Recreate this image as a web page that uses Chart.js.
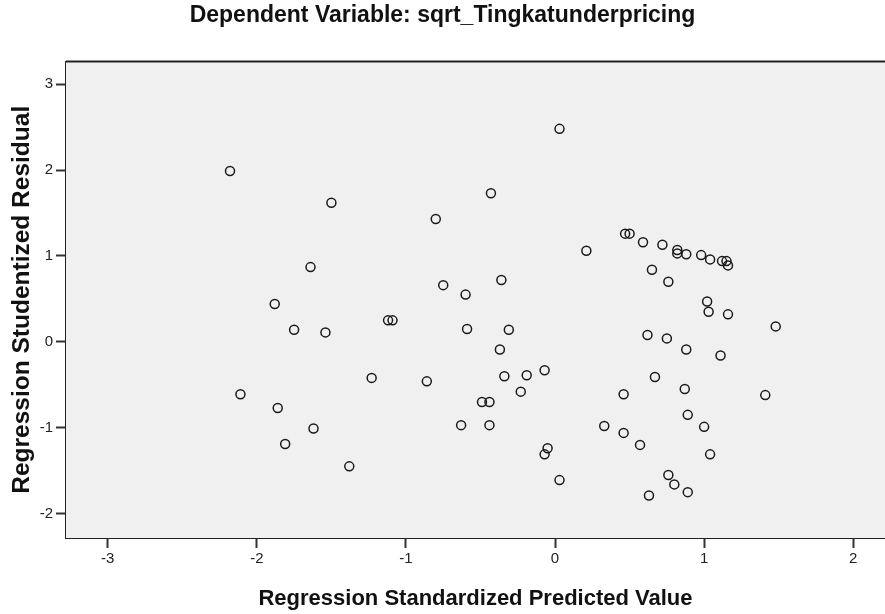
<!DOCTYPE html>
<html>
<head>
<meta charset="utf-8">
<title>Residual scatter</title>
<script src="https://cdn.jsdelivr.net/npm/chart.js@4.4.1/dist/chart.umd.min.js"></script>
<style>
  html, body { margin: 0; padding: 0; background: #fff; }
  #wrap { width: 885px; height: 614px; }
</style>
</head>
<body>
<div id="wrap"><canvas id="residChart"></canvas></div>
<script>
// values
const predicted = [
  -2.18, -1.50, -1.64, -1.88, 0.03, -0.43, -0.80, 0.47, 0.50, 0.21,
  -0.75, -0.60, -0.36, 0.59, 0.72, 0.82, 0.82, 0.88, 0.98, 1.04,
  1.12, 1.15, 1.16, 0.65, 0.76, 1.02, -1.75, -1.54, -2.11, -1.86,
  -1.62, -1.81, -1.38, -1.12, -1.09, -0.59, -0.31, -0.37, -1.23, -0.86,
  -0.34, -0.19, -0.07, -0.23, -0.49, -0.44, -0.63, -0.44, -0.05, -0.07,
  0.03, 0.46, 0.33, 0.46, 1.03, 1.16, 1.48, 0.62, 0.75, 0.88,
  1.11, 0.67, 0.87, 1.41, 0.89, 1.00, 0.57, 1.04, 0.76, 0.80,
  0.89, 0.63
];
const residual = [
  1.99, 1.62, 0.87, 0.44, 2.48, 1.73, 1.43, 1.26, 1.26, 1.06,
  0.66, 0.55, 0.72, 1.16, 1.13, 1.07, 1.03, 1.02, 1.01, 0.96,
  0.94, 0.94, 0.89, 0.84, 0.70, 0.47, 0.14, 0.11, -0.61, -0.77,
  -1.01, -1.19, -1.45, 0.25, 0.25, 0.15, 0.14, -0.09, -0.42, -0.46,
  -0.40, -0.39, -0.33, -0.58, -0.70, -0.70, -0.97, -0.97, -1.24, -1.31,
  -1.61, -0.61, -0.98, -1.06, 0.35, 0.32, 0.18, 0.08, 0.04, -0.09,
  -0.16, -0.41, -0.55, -0.62, -0.85, -0.99, -1.20, -1.31, -1.55, -1.66,
  -1.75, -1.79
];
const xTicks = [-3, -2, -1, 0, 1, 2];
const yTicks = [-2, -1, 0, 1, 2, 3];

const points = predicted.map((x, i) => ({ x: x, y: residual[i] }));

// grey plot background + top edge (right edge runs off the picture)
const plotFrame = {
  id: 'plotFrame',
  beforeDatasetsDraw(chart) {
    const { ctx, chartArea: a } = chart;
    ctx.save();
    ctx.fillStyle = '#f0f0f0';
    ctx.fillRect(a.left, a.top, a.right - a.left, a.bottom - a.top);
    ctx.strokeStyle = '#222';
    ctx.lineWidth = 2;
    ctx.beginPath();
    ctx.moveTo(a.left, a.top);
    ctx.lineTo(a.right, a.top);
    ctx.stroke();
    ctx.restore();
  }
};

const fontFam = 'Arial, "Liberation Sans", sans-serif';

new Chart(document.getElementById('residChart').getContext('2d'), {
  type: 'scatter',
  data: {
    datasets: [{
      data: points,
      pointStyle: 'circle',
      pointRadius: 4.5,
      pointHoverRadius: 4.5,
      pointBorderWidth: 1.5,
      pointBorderColor: '#1a1a1a',
      pointBackgroundColor: 'rgba(0,0,0,0)'
    }]
  },
  options: {
    responsive: true,
    maintainAspectRatio: false,
    animation: false,
    layout: { padding: 0, autoPadding: false },
    plugins: {
      legend: { display: false },
      tooltip: { enabled: false },
      title: {
        display: true,
        text: 'Dependent Variable: sqrt_Tingkatunderpricing',
        color: '#111',
        font: { family: fontFam, size: 23, weight: 'bold' },
        padding: { top: 2, bottom: 32 }
      }
    },
    scales: {
      x: {
        type: 'linear',
        min: -3.28,
        max: 2.213,
        afterBuildTicks: s => { s.ticks = xTicks.map(v => ({ value: v })); },
        afterFit: s => { s.height = 76; },
        grid: { drawOnChartArea: false, drawTicks: true, tickLength: 10, tickColor: '#333', tickWidth: 2 },
        border: { display: true, color: '#222', width: 2 },
        ticks: { color: '#222', padding: 2, font: { family: fontFam, size: 15 } },
        title: {
          display: true,
          text: 'Regression Standardized Predicted Value',
          color: '#111',
          font: { family: fontFam, size: 22, weight: 'bold' },
          padding: { top: 0, bottom: 2 }
        }
      },
      y: {
        type: 'linear',
        min: -2.284,
        max: 3.263,
        afterBuildTicks: s => { s.ticks = yTicks.map(v => ({ value: v })); },
        afterFit: s => { s.width = 66; },
        grid: { drawOnChartArea: false, drawTicks: true, tickLength: 10, tickColor: '#333', tickWidth: 2 },
        border: { display: true, color: '#222', width: 2 },
        ticks: { color: '#222', padding: 3, font: { family: fontFam, size: 15 } },
        title: {
          display: true,
          text: 'Regression Studentized Residual',
          color: '#111',
          font: { family: fontFam, size: 24.5, weight: 'bold' },
          padding: { top: 8, bottom: 0 }
        }
      }
    }
  },
  plugins: [plotFrame]
});
</script>
</body>
</html>
